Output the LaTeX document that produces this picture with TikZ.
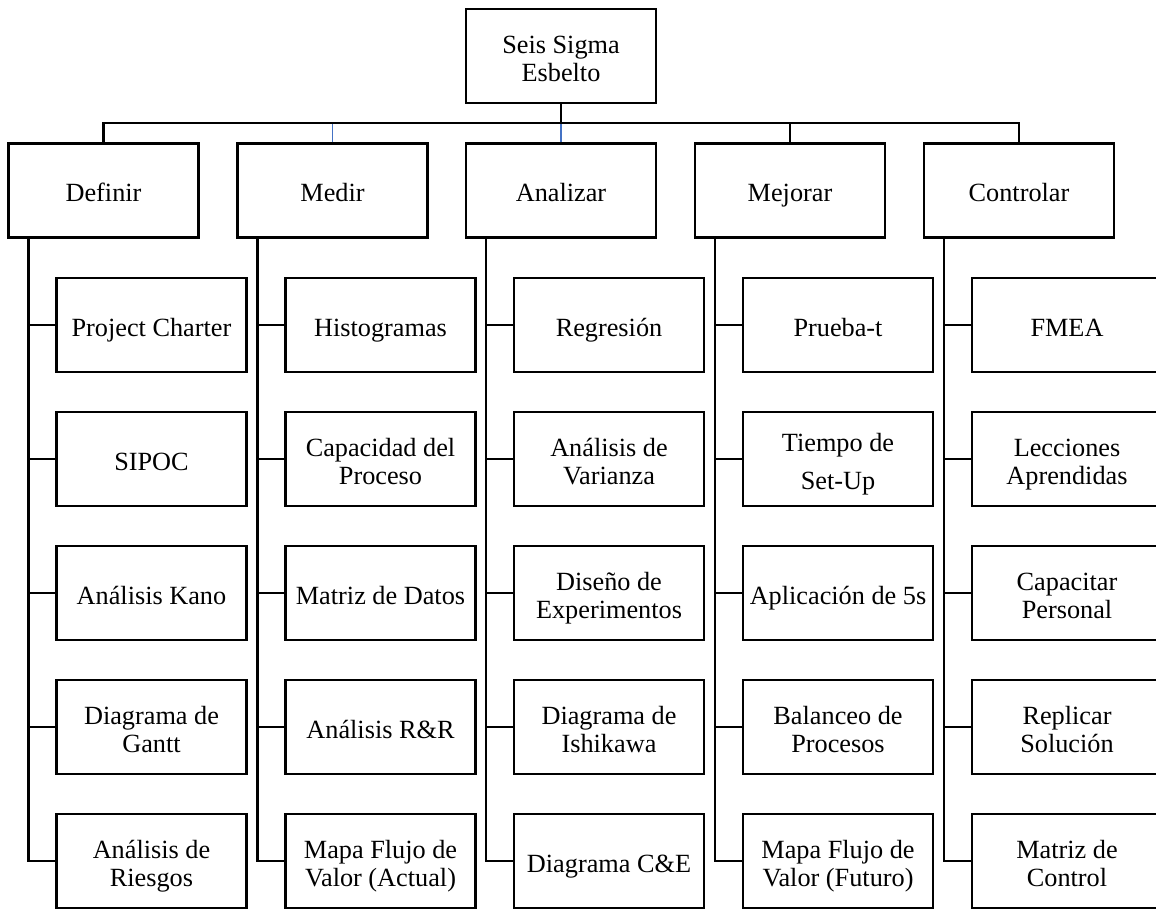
\documentclass[tikz,border=0pt]{standalone}
\usepackage{fontspec}
\setmainfont{Liberation Serif}
\definecolor{tickblue}{HTML}{4472C4}
\newcommand\bx[1]{\parbox{140pt}{\centering\rule{0pt}{22.2pt}#1\rule[-5pt]{0pt}{5pt}}}
\tikzset{
  box/.style={draw=black, line width=1.6pt, fill=white, rectangle, inner sep=0pt,
    minimum width=142.5pt, minimum height=70.5pt,
    font=\fontsize{19.7}{21}\selectfont},
  link/.style={draw=black, line width=1.6pt},
  bluelink/.style={draw=tickblue, line width=1.2pt}
}
\begin{document}
\begin{tikzpicture}[x=0.75pt, y=-0.75pt]
\useasboundingbox (0,0) rectangle (1156,909);
\clip (0,0) rectangle (1156,909);
% root
\node[box] (root) at (561,56) {\bx{Seis Sigma\\Esbelto}};
% level 1
\node[box] (L0) at (103.5,190.5) {\bx{Definir}};
\node[box] (L1) at (332.5,190.5) {\bx{Medir}};
\node[box] (L2) at (561,190.5) {\bx{Analizar}};
\node[box] (L3) at (790,190.5) {\bx{Mejorar}};
\node[box] (L4) at (1019,190.5) {\bx{Controlar}};
\coordinate (bar) at (561,123);
% Definir children
\node[box] (A1) at (151.5,325) {\bx{Project Charter}};
\node[box] (A2) at (151.5,459) {\bx{SIPOC}};
\node[box] (A3) at (151.5,593) {\bx{Análisis Kano}};
\node[box] (A4) at (151.5,727) {\bx{Diagrama de\\Gantt}};
\node[box] (A5) at (151.5,861) {\bx{Análisis de\\Riesgos}};
% Medir children
\node[box] (B1) at (380.5,325) {\bx{Histogramas}};
\node[box] (B2) at (380.5,459) {\bx{Capacidad del\\Proceso}};
\node[box] (B3) at (380.5,593) {\bx{Matriz de Datos}};
\node[box] (B4) at (380.5,727) {\bx{Análisis R\&R}};
\node[box] (B5) at (380.5,861) {\bx{Mapa Flujo de\\Valor (Actual)}};
% Analizar children
\node[box] (C1) at (609,325) {\bx{Regresión}};
\node[box] (C2) at (609,459) {\bx{Análisis de\\Varianza}};
\node[box] (C3) at (609,593) {\bx{Diseño de\\Experimentos}};
\node[box] (C4) at (609,727) {\bx{Diagrama de\\Ishikawa}};
\node[box] (C5) at (609,861) {\bx{Diagrama C\&E}};
% Mejorar children
\node[box] (D1) at (838,325) {\bx{Prueba-t}};
\node[box] (D2) at (838,459) {\bx{Tiempo de\\[7pt]Set-Up}};
\node[box] (D3) at (838,593) {\bx{Aplicación de 5s}};
\node[box] (D4) at (838,727) {\bx{Balanceo de\\Procesos}};
\node[box] (D5) at (838,861) {\bx{Mapa Flujo de\\Valor (Futuro)}};
% Controlar children
\node[box] (E1) at (1067,325) {\bx{FMEA}};
\node[box] (E2) at (1067,459) {\bx{Lecciones\\Aprendidas}};
\node[box] (E3) at (1067,593) {\bx{Capacitar\\Personal}};
\node[box] (E4) at (1067,727) {\bx{Replicar\\Solución}};
\node[box] (E5) at (1067,861) {\bx{Matriz de\\Control}};
% column trunk start points
\coordinate (v0) at (28.5,238);
\coordinate (v1) at (257.5,238);
\coordinate (v2) at (486,238);
\coordinate (v3) at (715,238);
\coordinate (v4) at (944,238);
% blue ticks
\draw[bluelink] (L1.north) -- (L1.north |- bar);
\draw[bluelink] (L2.north) -- (L2.north |- bar);
% black connectors at the top
\draw[link] (root.south) -- (bar);
\draw[link] (L0.north) |- (bar) -| (L4.north);
\draw[link] (L3.north) -- (L3.north |- bar);
% trunks and branches
\foreach \c/\v in {A/v0,B/v1,C/v2,D/v3,E/v4}{
  \draw[link] (\v) |- (\c5.west);
  \foreach \k in {1,2,3,4}{
    \draw[link] (\v |- \c\k.west) -- (\c\k.west);
  }
}
\end{tikzpicture}
\end{document}
